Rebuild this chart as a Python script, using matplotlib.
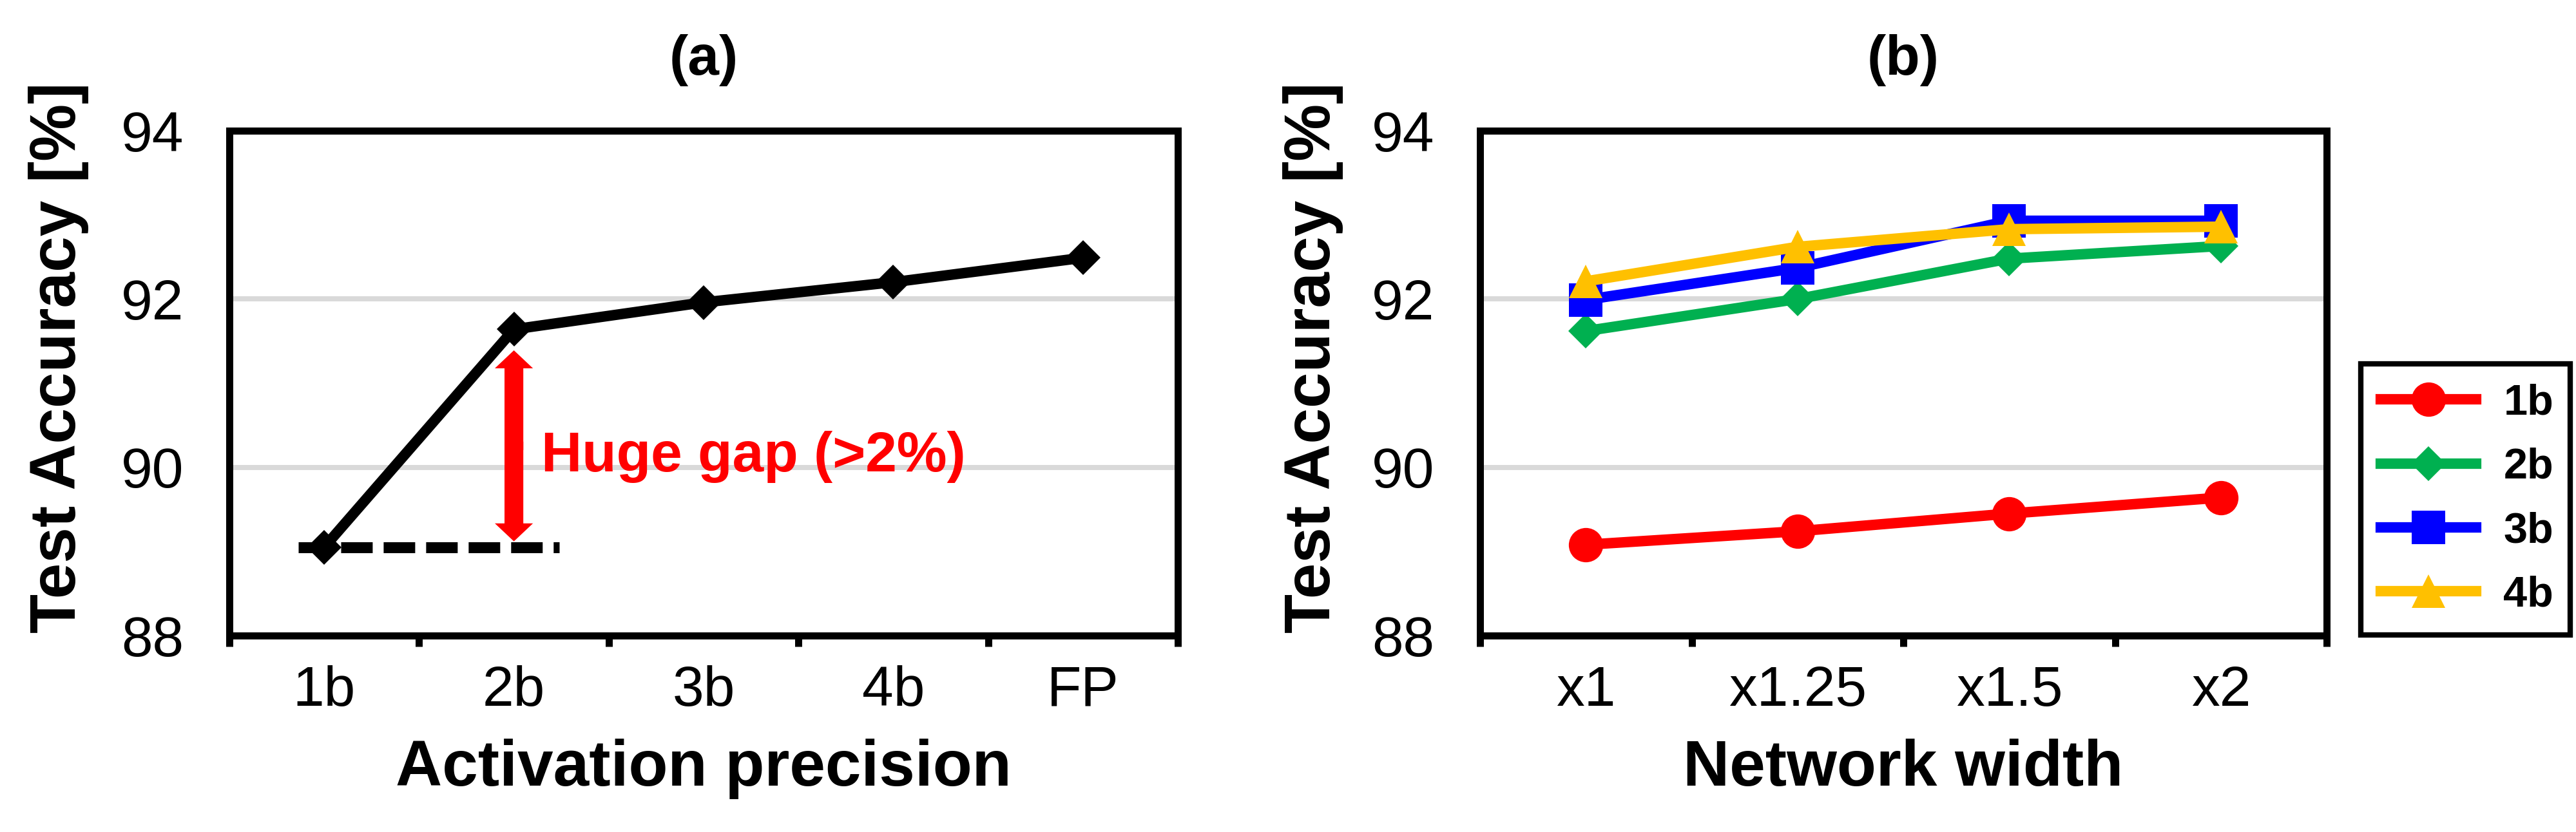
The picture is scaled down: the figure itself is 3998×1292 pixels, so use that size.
import numpy as np
import matplotlib
matplotlib.use('Agg')
import matplotlib.pyplot as plt

plt.rcParams['font.family'] = ['Liberation Sans', 'DejaVu Sans']

# panel (a): accuracy vs activation precision
precisions = ['1b', '2b', '3b', '4b', 'FP']
acc_a = [89.05, 91.64, 91.96, 92.2, 92.49]

# panel (b): accuracy vs network width, one series per precision
widths = ['x1', 'x1.25', 'x1.5', 'x2']
acc_1b = [89.08, 89.24, 89.45, 89.64]
acc_2b = [91.62, 92.0, 92.48, 92.63]
acc_3b = [91.99, 92.37, 92.93, 92.93]
acc_4b = [92.21, 92.62, 92.83, 92.86]
series_names = ['1b', '2b', '3b', '4b']

# gap annotation in (a)
gap_top = 91.39
gap_bottom = 89.12
gap_text = 'Huge gap (>2%)'

W, H, DPI = 3998, 1292, 300
fig = plt.figure(figsize=(W / DPI, H / DPI), dpi=DPI)

ax_a = fig.add_axes([356 / W, 1 - 987 / H, 1472 / W, 784 / H])
ax_b = fig.add_axes([2297 / W, 1 - 987 / H, 1314 / W, 784 / H])

LW = 3.9
SPINE = 2.64
GRID = '#D9D9D9'


def style_axes(ax, labels, xlabel, title, ylab_x):
    n = len(labels)
    ax.set_xlim(-0.5, n - 0.5)
    ax.set_ylim(88, 94)
    ax.set_yticks([88, 90, 92, 94])
    # tick marks sit between categories, labels in the middle
    ax.set_xticks(np.arange(-0.5, n, 1.0))
    ax.set_xticklabels([])
    ax.set_xticks(range(n), minor=True)
    ax.set_xticklabels(labels, minor=True)
    ax.tick_params(axis='x', which='major', direction='out', length=4,
                   width=SPINE, color='black')
    ax.tick_params(axis='x', which='minor', length=0, pad=11, labelsize=21)
    ax.tick_params(axis='y', length=0, pad=17, labelsize=21)
    for s in ax.spines.values():
        s.set_linewidth(SPINE)
        s.set_color('black')
    ax.set_axisbelow(True)
    ax.grid(axis='y', which='major', color=GRID, lw=1.9)
    ax.set_xlabel(xlabel, fontsize=24, fontweight='bold', labelpad=8)
    ax.set_ylabel('Test Accuracy [%]', fontsize=24, fontweight='bold')
    ax.yaxis.set_label_coords(ylab_x, 0.55)
    ax.yaxis.label.set_va('center')
    ax.text(0.5, 1.14, title, transform=ax.transAxes, ha='center',
            va='center', fontsize=21, fontweight='bold')


# ---- (a)
xa = np.arange(len(precisions))
ax_a.plot(xa, acc_a, color='black', lw=LW, marker='D', ms=9.2, mew=0,
          zorder=4, clip_on=False)
ax_a.plot([-0.136, 1.24], [acc_a[0], acc_a[0]], color='black', lw=4.08,
          linestyle=(0, (2.88, 1.0)), dash_capstyle='butt', zorder=3)
# double headed arrow, drawn as two halves from the middle
gap_mid = (gap_top + gap_bottom) / 2
for end, start in ((gap_top, gap_mid - 0.05), (gap_bottom, gap_mid + 0.05)):
    ax_a.annotate('', xy=(1, end), xytext=(1, start),
                  arrowprops=dict(arrowstyle='simple,head_length=6.7,'
                                  'head_width=14.2,tail_width=7',
                                  mutation_scale=1, color='red', lw=0,
                                  shrinkA=0, shrinkB=0))
ax_a.text(1.143, 89.955, gap_text, color='red', fontsize=21,
          fontweight='bold', ha='left', va='baseline')
style_axes(ax_a, precisions, 'Activation precision', '(a)', -0.180)

# ---- (b)
xb = np.arange(len(widths))
styles = [('#FF0000', 'o', 12.8), ('#00B050', 'D', 9.2),
          ('#0000FF', 's', 12.7), ('#FFC000', '^', 12.7)]
handles = []
for vals, name, (c, m, ms) in zip([acc_1b, acc_2b, acc_3b, acc_4b],
                                  series_names, styles):
    h, = ax_b.plot(xb, vals, color=c, lw=LW, marker=m, ms=ms, mew=0,
                   label=name, zorder=4, clip_on=False)
    handles.append(h)
style_axes(ax_b, widths, 'Network width', '(b)', -0.197)

leg = ax_b.legend(handles=handles, loc='upper left',
                  bbox_to_anchor=(1.0403, -0.0026, 0.2473, 0.5409),
                  mode='expand', borderaxespad=0, borderpad=0.46,
                  labelspacing=0.56, handlelength=2.22, handletextpad=0.64,
                  numpoints=1, fancybox=False, framealpha=1,
                  prop={'size': 16, 'weight': 'bold'})
leg.get_frame().set_edgecolor('black')
leg.get_frame().set_linewidth(2)

fig.savefig('out.png', dpi=DPI)
